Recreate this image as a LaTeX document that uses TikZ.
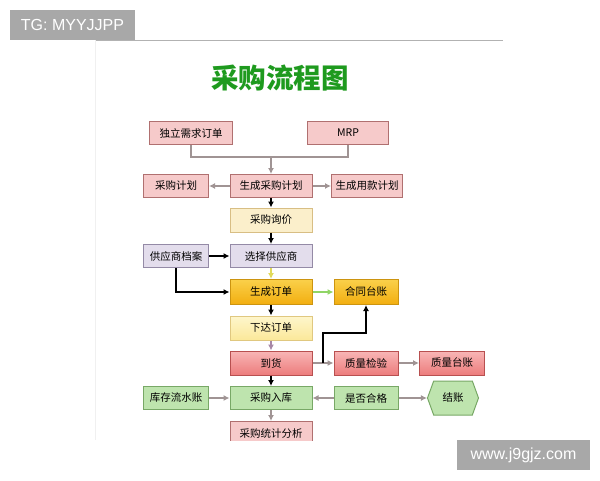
\documentclass[tikz,border=0pt]{standalone}
\usepackage{fontspec}
\setmainfont{Liberation Sans}
\newfontfamily\cjk{Noto Sans CJK SC}
\usepackage{tikz}
\usetikzlibrary{shapes.symbols, arrows.meta}

\definecolor{pinkfill}{HTML}{F6CACA}
\definecolor{pinkline}{HTML}{B07070}
\definecolor{lavfill}{HTML}{E3DDEC}
\definecolor{lavline}{HTML}{948AA6}
\definecolor{creamfill}{HTML}{FBEFCB}
\definecolor{creamline}{HTML}{D8BE84}
\definecolor{orangetop}{HTML}{FAD04A}
\definecolor{orangebot}{HTML}{F2AE10}
\definecolor{orangeline}{HTML}{CC9410}
\definecolor{yeltop}{HTML}{FEF6CC}
\definecolor{yelbot}{HTML}{FBE89A}
\definecolor{yelline}{HTML}{E0C880}
\definecolor{redtop}{HTML}{F8B6B6}
\definecolor{redbot}{HTML}{EC7C7C}
\definecolor{redline}{HTML}{B85050}
\definecolor{greenfill}{HTML}{BEE4AE}
\definecolor{greenline}{HTML}{78A866}
\definecolor{titlegreen}{HTML}{1E9A1E}
\definecolor{markgray}{HTML}{A8A8A8}
\definecolor{arrowgray}{HTML}{A09494}

\tikzset{
  flowbox/.style={draw, line width=1pt, minimum width=82, minimum height=23,
    inner sep=0pt, font=\cjk\fontsize{10.5}{12}\selectfont},
  sidebox/.style={flowbox, minimum width=65},
  pinkbox/.style={fill=pinkfill, draw=pinkline},
  lavbox/.style={fill=lavfill, draw=lavline},
  creambox/.style={fill=creamfill, draw=creamline},
  orangebox/.style={top color=orangetop, bottom color=orangebot, draw=orangeline},
  yelbox/.style={top color=yeltop, bottom color=yelbot, draw=yelline},
  redbox/.style={top color=redtop, bottom color=redbot, draw=redline},
  greenbox/.style={fill=greenfill, draw=greenline},
  grayarrow/.style={draw=arrowgray, line width=1.2pt, -{Latex[length=6pt, width=6pt]}},
  blackarrow/.style={draw=black, line width=1.4pt, -{Latex[length=6pt, width=6pt]}},
  markbox/.style={fill=markgray, text=white, inner sep=0pt,
    font=\fontsize{16}{18}\selectfont}
}

\begin{document}
\begin{tikzpicture}[x=1pt, y=-1pt]
  \useasboundingbox (0,0) rectangle (600,480);
  % --- Image frame ---
  \draw[gray!60, line width=0.8pt] (95,40) -- (503,40);
  \draw[gray!12, line width=0.6pt] (95,40) -- (95,440);
  % --- Title ---
  \node[font=\cjk\bfseries\fontsize{27.5}{30}\selectfont, text=titlegreen] (title) at (280,78) {采购流程图};
  \begin{scope}
    \clip (95,40) rectangle (503,440);
    % --- Sources ---
    \node[flowbox, pinkbox, minimum width=83] (duli) at (191,133) {独立需求订单};
    \node[flowbox, pinkbox, minimum width=81] (mrp) at (348,133) {MRP};
    % --- Planning row ---
    \node[flowbox, pinkbox] (shengcheng) at (271,186) {生成采购计划};
    \node[sidebox, pinkbox] (jihua) at (176,186) {采购计划};
    \node[sidebox, pinkbox, minimum width=71] (yongkuan) at (367,186) {生成用款计划};
    % --- Main column ---
    \node[flowbox, creambox, minimum height=24] (xunjia) at (271,220) {采购询价};
    \node[flowbox, lavbox] (xuanze) at (271,256) {选择供应商};
    \node[sidebox, lavbox] (dangan) at (176,256) {供应商档案};
    \node[flowbox, orangebox, minimum height=25] (dingdan) at (271,292) {生成订单};
    \node[sidebox, orangebox, minimum width=64, minimum height=25] (hetong) at (366,292) {合同台账};
    \node[flowbox, yelbox, minimum height=24] (xiada) at (271,328) {下达订单};
    \node[flowbox, redbox, minimum height=24] (daohuo) at (271,363) {到货};
    \node[sidebox, redbox, minimum width=64, minimum height=24] (jianyan) at (366,363) {质量检验};
    \node[sidebox, redbox, minimum height=24] (zhiliang) at (452,363) {质量台账};
    \node[flowbox, greenbox] (ruku) at (271,398) {采购入库};
    \node[sidebox, greenbox] (liushui) at (176,398) {库存流水账};
    \node[sidebox, greenbox, minimum width=64] (hege) at (366,398) {是否合格};
    \node[greenbox, draw, line width=1pt, shape=signal, signal to=east and west,
      signal pointer angle=140, minimum width=51, minimum height=34, inner sep=0pt,
      font=\cjk\fontsize{10.5}{12}\selectfont] (jiezhang) at (453,398) {结账};
    \node[flowbox, pinkbox] (tongji) at (271,433) {采购统计分析};
    % --- Connectors ---
    \coordinate (join) at (271,157);
    \draw[draw=arrowgray, line width=1.2pt] (duli.south) -- (duli.south |- join)
      -- (mrp.south |- join) -- (mrp.south);
    \draw[grayarrow] (join) -- (shengcheng.north);
    \draw[grayarrow] (shengcheng.west) -- (jihua.east);
    \draw[grayarrow] (shengcheng.east) -- (yongkuan.west);
    \draw[blackarrow] (shengcheng.south) -- (xunjia.north);
    \draw[blackarrow] (xunjia.south) -- (xuanze.north);
    \draw[blackarrow] (dangan.east) -- (xuanze.west);
    \draw[blackarrow] (dangan.south) |- (dingdan.west);
    \draw[grayarrow, draw=yellow!55!olive!60] (xuanze.south) -- (dingdan.north);
    \draw[grayarrow, draw=green!45!olive!60] (dingdan.east) -- (hetong.west);
    \draw[blackarrow] (dingdan.south) -- (xiada.north);
    \draw[grayarrow, draw=violet!35!gray!70] (xiada.south) -- (daohuo.north);
    \draw[grayarrow] (daohuo.east) -- (jianyan.west);
    \coordinate (fork) at (323,363);
    \coordinate (bend) at (323,333);
    \draw[blackarrow] (fork) -- (bend) -| (hetong.south);
    \draw[grayarrow] (jianyan.east) -- (zhiliang.west);
    \draw[blackarrow] (daohuo.south) -- (ruku.north);
    \draw[grayarrow] (liushui.east) -- (ruku.west);
    \draw[grayarrow] (hege.west) -- (ruku.east);
    \draw[grayarrow] (hege.east) -- (jiezhang.west);
    \draw[grayarrow] (ruku.south) -- (tongji.north);
  \end{scope}
  % --- Watermarks ---
  \node[markbox, minimum width=125, minimum height=30] (tgmark) at (72.5,25) {TG: MYYJJPP};
  \node[markbox, minimum width=133, minimum height=30] (sitemark) at (523.5,455) {www.j9gjz.com};
\end{tikzpicture}
\end{document}
